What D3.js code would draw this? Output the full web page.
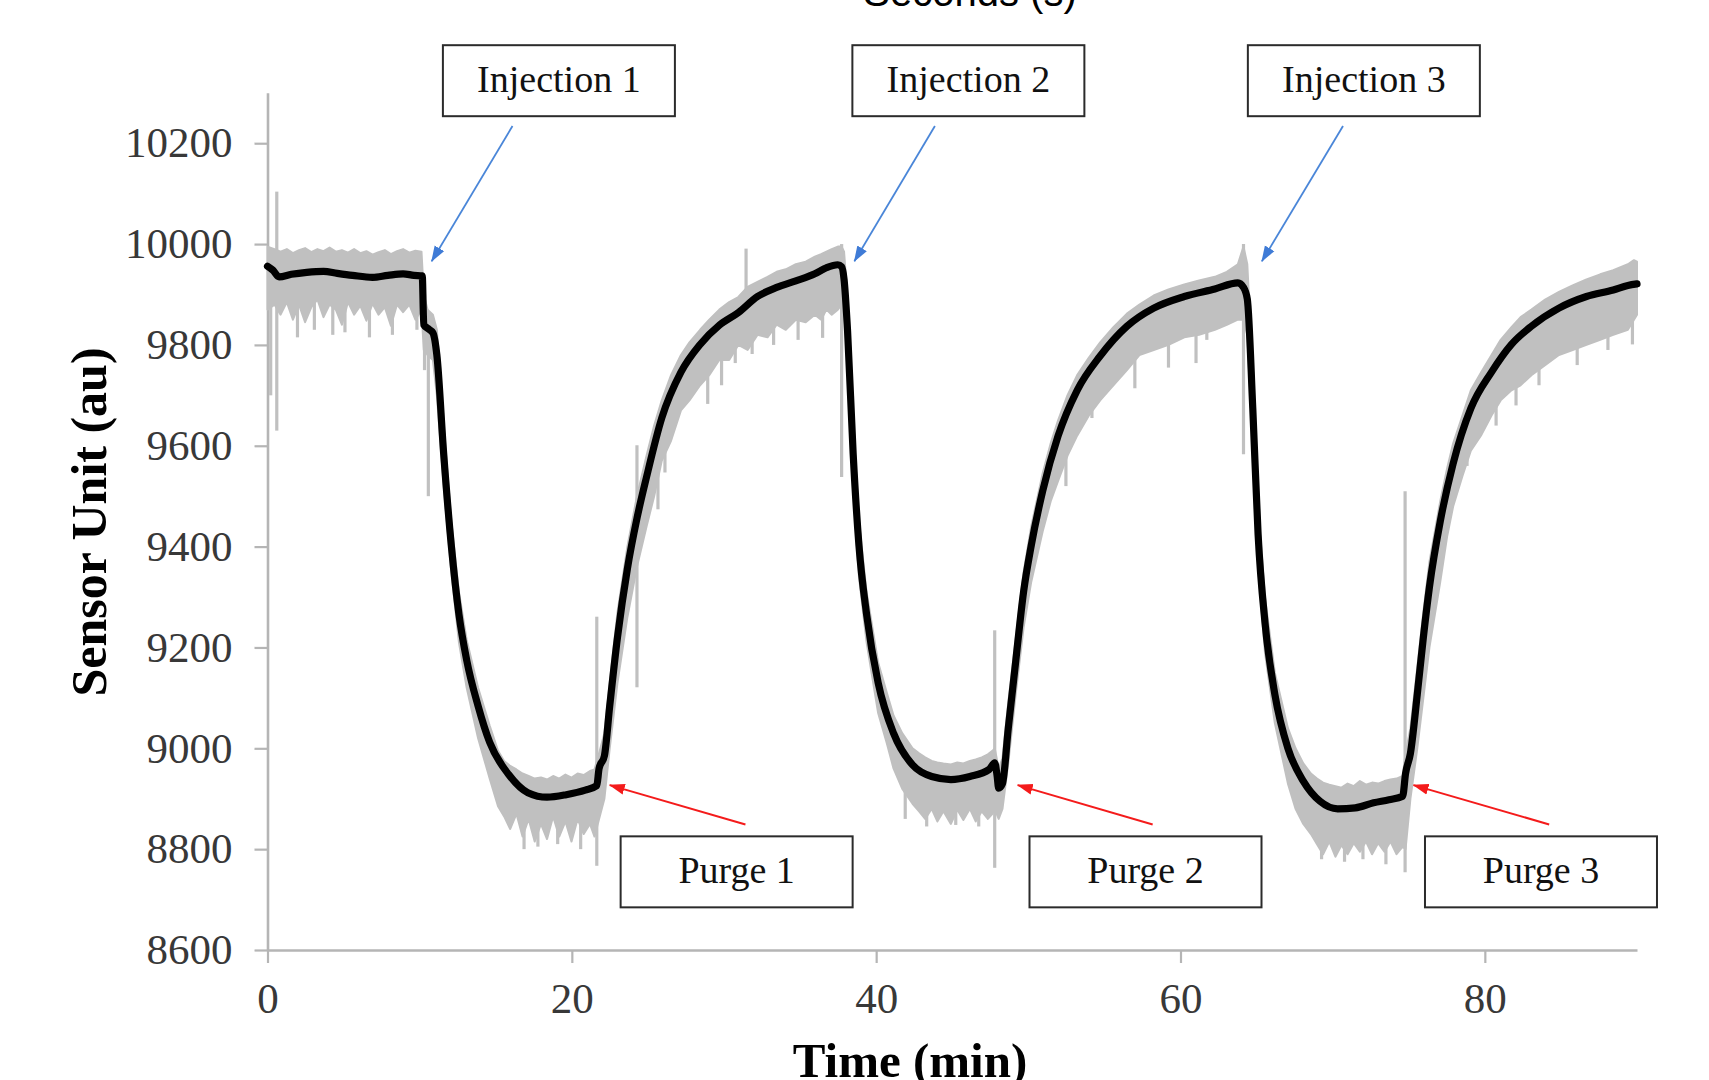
<!DOCTYPE html>
<html>
<head>
<meta charset="utf-8">
<script src="https://cdn.jsdelivr.net/npm/d3@7"></script>
<style>
  body { margin: 0; background: #fff; }
  svg { display: block; }
</style>
</head>
<body>
<div id="chart"></div>
<script>
// smoothed sensor signal (black)
const blackTime = [0, 0.36, 0.76, 1.57, 2.58, 3.68, 4.59, 5.59, 6.9, 7.91, 8.91, 9.62, 10.17, 10.27, 10.52, 10.87,
  11.13, 11.58, 12.08, 12.58, 13.09, 13.84, 14.6, 15.85, 17.11, 18.37, 19.63, 20.88, 21.64, 21.79, 22.14,
  22.49, 23.0, 23.65, 24.28, 24.91, 25.91, 27.17, 28.43, 29.69, 30.94, 32.2, 33.46, 34.72, 35.97, 36.73, 37.48,
  37.73, 37.89, 38.12, 38.49, 38.87, 39.37, 40.13, 41.14, 42.39, 43.65, 44.91, 46.16, 47.42, 47.79, 47.95,
  48.05, 48.3, 48.68, 49.18, 49.69, 50.19, 50.94, 51.95, 53.21, 54.72, 56.48, 58.24, 60.25, 62.26, 63.77,
  64.14, 64.39, 64.75, 65.1, 65.55, 66.2, 67.06, 68.07, 69.17, 70.33, 71.49, 72.69, 73.7, 74.6, 74.79, 75.11,
  75.56, 75.96, 76.36, 77.07, 77.92, 79.08, 80.44, 81.75, 83.06, 84.87, 86.68, 88.44, 89.4, 90]
const blackValue = [9956, 9948, 9935, 9940, 9944, 9946, 9942, 9938, 9934, 9938, 9941, 9938, 9937, 9840, 9833, 9824,
  9780, 9583, 9402, 9266, 9175, 9084, 9012, 8948, 8912, 8903, 8908, 8917, 8926, 8960, 8985,
  9084, 9220, 9356, 9456, 9538, 9655, 9746, 9801, 9839, 9864, 9896, 9914, 9927, 9941, 9953, 9959,
  9955, 9930, 9828, 9583, 9402, 9266, 9130, 9030, 8967, 8944, 8938, 8944, 8958, 8971, 8945,
  8921, 8930, 9039, 9175, 9311, 9402, 9510, 9619, 9710, 9778, 9837, 9873, 9896, 9911, 9923,
  9914, 9891, 9674, 9424, 9250, 9107, 9000, 8935, 8895, 8880, 8882, 8892, 8898, 8905, 8950, 8990,
  9107, 9220, 9320, 9450, 9565, 9674, 9746, 9801, 9837, 9873, 9896, 9909, 9918, 9921]

// raw signal (grey): upper and lower edge of the noise band
const grayTime = [
  0, 0.46, 0.86, 1.27, 1.67, 2.07, 2.47, 2.88, 3.28, 3.68, 4.08, 4.49, 4.89, 5.29, 5.69, 6.1, 6.5, 6.9, 7.3, 7.71, 8.11, 8.51, 8.91, 9.32, 9.72, 10.12,
  10.27, 10.52, 10.87,
  11.13, 11.58, 12.08, 12.58, 13.09, 13.84, 14.6, 15.15,
  15.55, 15.95, 16.36, 16.76, 17.16, 17.56, 17.97, 18.37, 18.77, 19.17, 19.58, 19.98, 20.38, 20.78, 21.19, 21.49,
  21.79, 22.14, 22.49, 23.0, 23.65, 24.28, 24.91, 25.41, 25.91, 26.52, 27.17, 27.73, 28.43, 29.03, 29.69, 30.34, 30.94, 31.55, 32.2, 32.86, 33.46, 34.06, 34.72, 35.37, 35.97, 36.38, 36.73, 37.08, 37.48, 37.73,
  37.89, 38.12, 38.49, 38.87, 39.37, 40.13, 40.7, 41.14, 41.71,
  42.39, 42.82, 43.22, 43.65, 44.02, 44.42, 44.91, 45.33, 45.73, 46.16, 46.54, 46.94, 47.34, 47.64,
  47.79, 48.05, 48.3, 48.68, 49.18, 49.69, 50.19, 50.94, 51.47, 51.95, 52.57, 53.21, 53.98, 54.72, 55.59, 56.48, 57.3, 58.24, 59.21, 60.25, 61.22, 62.26, 63.04, 63.77, 64.14,
  64.39, 64.75, 65.1, 65.55, 66.2, 67.06, 67.56, 68.07,
  68.57, 68.97, 69.37, 69.78, 70.18, 70.58, 70.98, 71.39, 71.79, 72.19, 72.59, 72.99, 73.4, 73.8, 74.2, 74.6,
  74.79, 75.11, 75.56, 75.96, 76.36, 77.07, 77.52, 77.92, 78.53, 79.08, 79.74, 80.44, 81.04, 81.75, 82.35, 83.06, 83.96, 84.87, 85.77, 86.68, 87.58, 88.44, 89.4, 89.8, 90]
const grayHigh = [
  9995, 9990, 9985, 9990, 9982, 9988, 9992, 9984, 9990, 9986, 9993, 9985, 9988, 9983, 9990, 9982, 9986, 9979, 9984, 9988, 9980, 9986, 9990, 9983, 9987, 9985,
  9900, 9870, 9860,
  9830, 9640, 9450, 9310, 9215, 9120, 9045, 8995,
  8975, 8965, 8958, 8950, 8945, 8940, 8942, 8938, 8945, 8940, 8948, 8942, 8950, 8947, 8955, 8958,
  8990, 9030, 9130, 9270, 9400, 9500, 9580, 9640, 9690, 9740, 9780, 9805, 9830, 9850, 9870, 9885, 9895, 9915, 9925, 9935, 9945, 9950, 9960, 9965, 9975, 9980, 9985, 9990, 9995, 9995,
  9985, 9890, 9650, 9450, 9310, 9170, 9110, 9065, 9030,
  9000, 8990, 8982, 8975, 8972, 8970, 8968, 8972, 8970, 8975, 8978, 8982, 8988, 8995,
  9000, 8960, 8980, 9090, 9220, 9350, 9440, 9545, 9605, 9650, 9700, 9740, 9775, 9805, 9835, 9862, 9880, 9898, 9910, 9920, 9928, 9935, 9945, 9960, 9995,
  9960, 9740, 9480, 9300, 9150, 9040, 9000, 8970,
  8950, 8940, 8932, 8928, 8925, 8922, 8930, 8925, 8935, 8928, 8932, 8930, 8935, 8938, 8940, 8945,
  8990, 9040, 9160, 9270, 9370, 9490, 9555, 9605, 9660, 9710, 9745, 9780, 9810, 9835, 9855, 9870, 9890, 9905, 9918, 9930, 9940, 9948, 9960, 9968, 9965]
const grayLow = [
  9870, 9880, 9860, 9885, 9850, 9880, 9845, 9875, 9890, 9855, 9880, 9870, 9840, 9885, 9860, 9878, 9848, 9882, 9860, 9875, 9838, 9880, 9865, 9880, 9850, 9870,
  9790, 9780, 9770,
  9700, 9520, 9350, 9210, 9120, 9020, 8940, 8885,
  8865, 8840, 8870, 8825, 8860, 8815, 8850, 8820, 8865, 8825, 8855, 8815, 8860, 8830, 8850, 8825,
  8860, 8900, 9000, 9130, 9260, 9360, 9440, 9500, 9570, 9610, 9670, 9690, 9720, 9740, 9770, 9770, 9800, 9790, 9820, 9815, 9840, 9830, 9850, 9845, 9860, 9850, 9870, 9860, 9870, 9880,
  9870, 9760, 9520, 9340, 9210, 9070, 9010, 8960, 8920,
  8890, 8875, 8860, 8880, 8855, 8875, 8850, 8878, 8858, 8880, 8855, 8875, 8860, 8870,
  8880, 8860, 8880, 8970, 9110, 9240, 9330, 9430, 9490, 9530, 9580, 9620, 9660, 9690, 9720, 9750, 9780, 9790, 9800, 9815, 9820, 9830, 9840, 9850, 9850,
  9820, 9600, 9360, 9190, 9050, 8930, 8880, 8850,
  8830, 8810, 8790, 8815, 8785, 8808, 8790, 8812, 8795, 8815, 8790, 8812, 8795, 8815, 8790, 8805,
  8800, 8900, 9000, 9100, 9200, 9330, 9420, 9480, 9540, 9590, 9620, 9660, 9690, 9710, 9720, 9740, 9760, 9780, 9790, 9800, 9810, 9820, 9830, 9850, 9860]

// single sharp excursions of the raw signal
const spikeTime = [0.21, 0.61, 1.97, 3.08, 4.29, 5.09, 6.7, 8.21, 9.82, 10.32, 10.57,
  16.86, 17.77, 19.07, 20.58, 21.64,
  24.28, 25.66, 26.12, 28.93, 29.84, 30.74, 31.45, 31.85, 33.26, 34.87, 36.48, 37.73,
  41.91, 43.32, 45.23, 46.74, 47.79,
  52.47, 54.18, 57.0, 59.21, 61.02, 61.73, 64.14,
  69.27, 70.78, 71.99, 73.5, 74.76,
  78.83, 80.74, 82.05, 83.56, 86.07, 88.09, 89.7]
const spikeTop = [9990, 10104, 9930, 9930, 9930, 9930, 9930, 9930, 9930, 9900, 9850,
  8880, 8880, 8880, 8880, 9261,
  9601, 9640, 9660, 9800, 9830, 9860, 9991, 9880, 9900, 9920, 9945, 10000,
  8950, 8950, 8950, 8950, 9234,
  9660, 9760, 9850, 9890, 9905, 9910, 10000,
  8870, 8870, 8870, 8870, 9510,
  9650, 9750, 9800, 9840, 9880, 9900, 9920]
const spikeBottom = [9700, 9630, 9815, 9830, 9820, 9825, 9815, 9820, 9830, 9750, 9500,
  8800, 8805, 8810, 8800, 8767,
  9121, 9474, 9547, 9683, 9720, 9764, 9830, 9782, 9800, 9810, 9814, 9538,
  8860, 8845, 8848, 8845, 8763,
  9520, 9655, 9714, 9755, 9764, 9810, 9583,
  8780, 8775, 8780, 8770, 8754,
  9560, 9640, 9680, 9720, 9760, 9790, 9801]

// annotations
const injectionLabels = ['Injection 1', 'Injection 2', 'Injection 3']
const injectionBoxTime = [19.15, 46.06, 72.05]
const injectionTipTime = [10.79, 38.57, 65.35]
const injectionTailTime = [16.1, 43.86, 70.68]
const purgeLabels = ['Purge 1', 'Purge 2', 'Purge 3']
const purgeBoxTime = [30.83, 57.7, 83.69]
const purgeTipTime = [22.49, 49.3, 75.31]
const purgeTailTime = [31.41, 58.17, 84.23]

const yTicks = [8600, 8800, 9000, 9200, 9400, 9600, 9800, 10000, 10200]
const xTicks = [0, 20, 40, 60, 80]

const width = 1709
const height = 1080
const margin = { top: 92.8, right: 72, bottom: 130, left: 267.5 }

const x = d3.scaleLinear().domain([0, 90]).range([margin.left, width - margin.right])
const y = d3.scaleLinear().domain([8600, 10300]).range([height - margin.bottom, margin.top])

const svg = d3.select('#chart')
  .append('svg')
  .attr('width', width)
  .attr('height', height)
  .attr('viewBox', [0, 0, width, height])

svg.append('rect').attr('width', width).attr('height', height).attr('fill', '#fff')

const defs = svg.append('defs')
const addMarker = (id, color) => {
  defs.append('marker')
    .attr('id', id)
    .attr('markerUnits', 'userSpaceOnUse')
    .attr('viewBox', '0 0 16 12')
    .attr('refX', 15)
    .attr('refY', 6)
    .attr('markerWidth', 16)
    .attr('markerHeight', 12)
    .attr('orient', 'auto')
    .append('path')
    .attr('d', 'M0,0.5 L16,6 L0,11.5 Z')
    .attr('fill', color)
}
addMarker('head-blue', '#3f7bd6')
addMarker('head-red', '#f41b1b')

// axes
const axisColor = '#b5b5b5'
const serif = '"Liberation Serif", "Times New Roman", serif'

const yAxis = svg.append('g')
  .attr('transform', `translate(${margin.left},0)`)
  .call(d3.axisLeft(y).tickValues(yTicks).tickFormat(d3.format('d')).tickSize(13).tickSizeOuter(0).tickPadding(22))
const xAxis = svg.append('g')
  .attr('transform', `translate(0,${height - margin.bottom})`)
  .call(d3.axisBottom(x).tickValues(xTicks).tickFormat(d3.format('d')).tickSize(13).tickSizeOuter(0).tickPadding(19))

for (const g of [yAxis, xAxis]) {
  g.select('.domain').attr('stroke', axisColor).attr('stroke-width', 2.6)
  g.selectAll('.tick line').attr('stroke', axisColor).attr('stroke-width', 2.2)
  g.selectAll('.tick text')
    .attr('fill', '#383838')
    .style('font-family', serif)
    .style('font-size', '43px')
}

// raw signal
const grayData = grayTime.map((t, i) => ({ t, hi: grayHigh[i], lo: grayLow[i] }))
svg.append('path')
  .datum(grayData)
  .attr('fill', '#c0c0c0')
  .attr('stroke', '#c0c0c0')
  .attr('stroke-width', 2)
  .attr('stroke-linejoin', 'round')
  .attr('d', d3.area().x(d => x(d.t)).y0(d => y(d.lo)).y1(d => y(d.hi)))

svg.append('g')
  .selectAll('line')
  .data(spikeTime.map((t, i) => ({ t, top: spikeTop[i], bottom: spikeBottom[i] })))
  .join('line')
  .attr('x1', d => x(d.t))
  .attr('x2', d => x(d.t))
  .attr('y1', d => y(d.top))
  .attr('y2', d => y(d.bottom))
  .attr('stroke', '#c0c0c0')
  .attr('stroke-width', 3.2)

// smoothed signal
const blackData = blackTime.map((t, i) => ({ t, v: blackValue[i] }))
svg.append('path')
  .datum(blackData)
  .attr('fill', 'none')
  .attr('stroke', '#000')
  .attr('stroke-width', 7.2)
  .attr('stroke-linejoin', 'round')
  .attr('stroke-linecap', 'round')
  .attr('d', d3.line().x(d => x(d.t)).y(d => y(d.v)).curve(d3.curveMonotoneX))

// arrows
const injectionTipValue = 9966
const injectionTailValue = 10234
const purgeTipValue = 8927
const purgeTailValue = 8849

svg.append('g')
  .selectAll('line')
  .data(injectionTipTime.map((t, i) => ({ tip: t, tail: injectionTailTime[i] })))
  .join('line')
  .attr('x1', d => x(d.tail))
  .attr('y1', y(injectionTailValue))
  .attr('x2', d => x(d.tip))
  .attr('y2', y(injectionTipValue))
  .attr('stroke', '#4a86d8')
  .attr('stroke-width', 1.8)
  .attr('marker-end', 'url(#head-blue)')

svg.append('g')
  .selectAll('line')
  .data(purgeTipTime.map((t, i) => ({ tip: t, tail: purgeTailTime[i] })))
  .join('line')
  .attr('x1', d => x(d.tail))
  .attr('y1', y(purgeTailValue))
  .attr('x2', d => x(d.tip))
  .attr('y2', y(purgeTipValue))
  .attr('stroke', '#f41b1b')
  .attr('stroke-width', 2)
  .attr('marker-end', 'url(#head-red)')

// label boxes
const boxW = 232
const boxH = 71
const injectionBoxValue = 10324
const purgeBoxValue = 8755

const drawBoxes = (labels, times, value, dy) => {
  const g = svg.append('g')
    .selectAll('g')
    .data(labels.map((label, i) => ({ label, t: times[i] })))
    .join('g')
    .attr('transform', d => `translate(${x(d.t)},${y(value)})`)
  g.append('rect')
    .attr('x', -boxW / 2)
    .attr('y', -boxH / 2)
    .attr('width', boxW)
    .attr('height', boxH)
    .attr('fill', '#fff')
    .attr('stroke', '#2b2b2b')
    .attr('stroke-width', 2)
  g.append('text')
    .text(d => d.label)
    .attr('text-anchor', 'middle')
    .attr('y', dy)
    .attr('fill', '#111')
    .style('font-family', serif)
    .style('font-size', '38px')
}
drawBoxes(injectionLabels, injectionBoxTime, injectionBoxValue, 11)
drawBoxes(purgeLabels, purgeBoxTime, purgeBoxValue, 11)

// titles
svg.append('text')
  .text('Time (min)')
  .attr('x', 910)
  .attr('y', 1077)
  .attr('text-anchor', 'middle')
  .attr('fill', '#000')
  .style('font-family', serif)
  .style('font-weight', 'bold')
  .style('font-size', '49px')

svg.append('text')
  .text('Sensor Unit (au)')
  .attr('transform', 'translate(106,522) rotate(-90)')
  .attr('text-anchor', 'middle')
  .attr('fill', '#000')
  .style('font-family', serif)
  .style('font-weight', 'bold')
  .style('font-size', '50px')

svg.append('text')
  .text('Seconds (s)')
  .attr('x', 970)
  .attr('y', 6)
  .attr('text-anchor', 'middle')
  .attr('fill', '#000')
  .style('font-family', '"Liberation Sans", Arial, sans-serif')
  .style('font-size', '40px')
</script>
</body>
</html>
